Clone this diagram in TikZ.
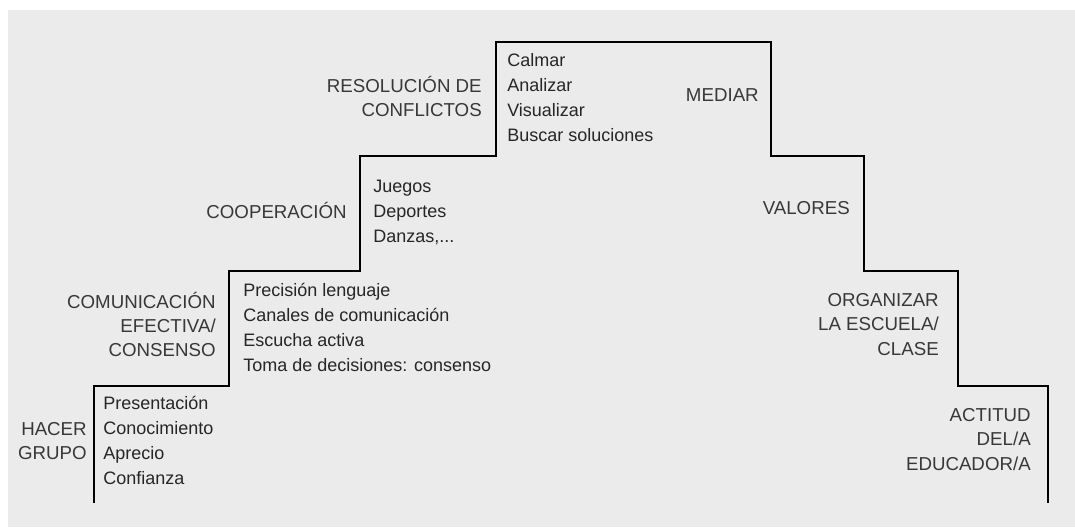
\documentclass[tikz,border=0pt]{standalone}
\usepackage{fontspec}
\setmainfont{Liberation Sans}
\begin{document}
\begin{tikzpicture}[x=0.025cm, y=-0.025cm, line join=miter, line cap=rect,
	lbl/.style={anchor=east, align=right, inner sep=0pt, text=black!78, font=\fontsize{13.3}{17.3}\selectfont},
	items/.style={anchor=west, align=left, inner sep=0pt, text=black!85, font=\fontsize{12.8}{17.8}\selectfont}]
	\def\ya{386} \def\yb{271} \def\yc{156} \def\yd{42} \def\ybot{502} % alturas de los escalones
	\useasboundingbox (0,0) rectangle (1075,527);
	\fill[white] (0,0) rectangle (1075,527);
	\fill[black!8] (8,10) rectangle (1075,527);
	% escalera
	\draw[line width=1.7pt] (94,\ybot) |- (229,\ya) |- (360,\yb) |- (496,\yc) |- (771,\yd)
		|- (864,\yc) |- (958,\yb) |- (1048,\ya) -- (1048,\ybot);
	% subida
	\node[lbl] (grupo) at (87,441) {HACER\\GRUPO};
	\node[items] (grupoitems) at (103,440.5) {Presentación\\Conocimiento\\Aprecio\\Confianza};
	\node[lbl] (comunic) at (216,324.5) {COMUNICACIÓN\\EFECTIVA/\\CONSENSO};
	\node[items] (comunicitems) at (243,327) {Precisión lenguaje\\Canales de comunicación\\Escucha activa\\Toma de decisiones: consenso};
	\node[lbl] (coop) at (347,210) {COOPERACIÓN};
	\node[items] (coopitems) at (373,212.5) {Juegos\\Deportes\\Danzas,...};
	\node[lbl] (resol) at (482,96.5) {RESOLUCIÓN DE\\CONFLICTOS};
	\node[items] (resolitems) at (507,97.5) {Calmar\\Analizar\\Visualizar\\Buscar soluciones};
	% bajada
	\node[lbl] (mediar) at (759,95) {MEDIAR};
	\node[lbl] (valores) at (850,208) {VALORES};
	\node[lbl] (organizar) at (939,324.5) {ORGANIZAR\\LA ESCUELA/\\CLASE};
	\node[lbl] (actitud) at (1031,439.5) {ACTITUD\\DEL/A\\EDUCADOR/A};
\end{tikzpicture}
\end{document}
